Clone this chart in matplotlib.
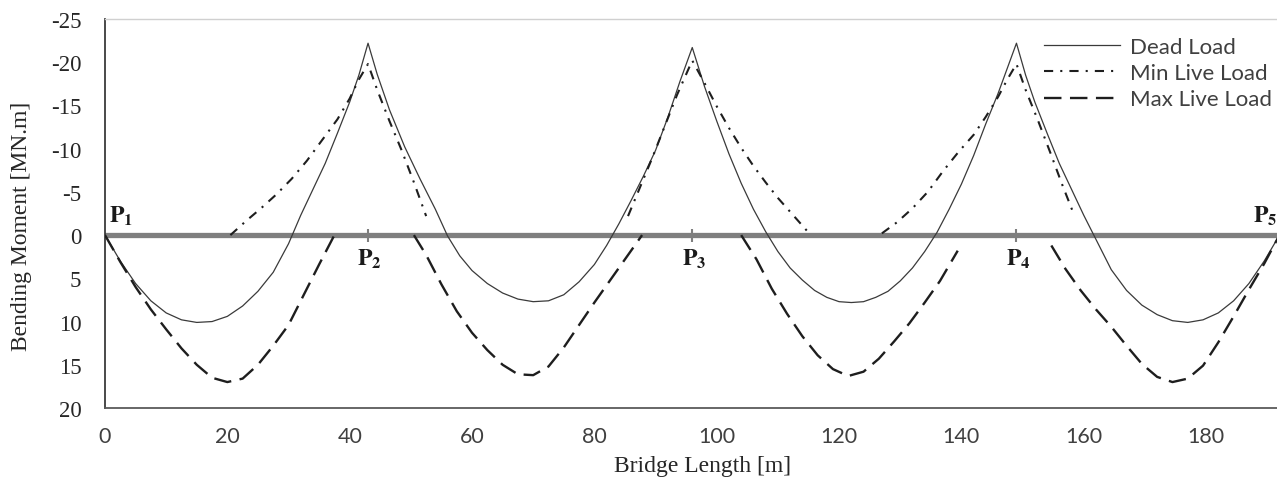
import matplotlib
matplotlib.use('Agg')
import matplotlib.pyplot as plt
import numpy as np

# 弯矩包络图 - 四跨连续梁桥

nan = np.nan

# Dead Load [MN.m], 正值 = 正弯矩（向下画）
dead_x = [0, 2.5, 5, 7.5, 10, 12.5, 15, 17.5, 20, 22.5, 25, 27.5, 30, 32, 34, 36, 38, 40, 41.5, 43,
          44.5, 46.5, 49, 51.5, 54, 56, 58, 60, 62.5, 65, 67.5, 70, 72.5, 75, 77.5, 80, 82, 84, 86, 88, 90, 92, 94, 96,
          98, 100, 102, 104, 106, 108, 110, 112, 114, 116, 118, 120, 122, 124, 126, 128, 130, 132, 134, 136, 138,
          140, 142, 144, 146, 147.5, 149,
          150.5, 152, 154, 156, 158, 160, 162, 164.5, 167, 169.5, 172, 174.5, 177, 179.5, 182, 184.5, 187, 189.5, 192]
dead_m = [0, 3.0, 5.6, 7.6, 9.0, 9.8, 10.1, 10.0, 9.4, 8.2, 6.5, 4.3, 1.0, -2.3, -5.3, -8.3, -11.8, -15.4, -18.5, -22.2,
          -18.6, -14.5, -10.2, -6.5, -3.0, 0.1, 2.4, 4.1, 5.6, 6.7, 7.4, 7.7, 7.6, 6.9, 5.4, 3.4, 1.2, -1.3, -4.0, -6.8,
          -9.8, -13.6, -17.8, -21.7,
          -17.2, -13.2, -9.4, -6.0, -3.0, -0.4, 1.9, 3.8, 5.2, 6.4, 7.2, 7.7, 7.8, 7.7, 7.2, 6.5, 5.3, 3.8, 1.9, -0.3,
          -3.0, -5.9, -9.2, -12.9, -16.4, -19.3, -22.2,
          -18.5, -15.4, -11.8, -8.3, -5.3, -2.3, 0.5, 4.0, 6.4, 8.1, 9.2, 9.9, 10.1, 9.8, 9.0, 7.6, 5.6, 3.0, 0]

# Min Live Load (只有负弯矩段)
minll_x = [20.5, 23, 25.5, 28, 30.5, 33, 35.5, 38, 40, 41.5, 43, 44.5, 46.5, 48.5, 50.5, 52.5, nan,
           85.5, 87.5, 89.5, 91.5, 93.5, 96, 98, 100, 102, 104, 106, 108, 110, 112, 115, nan,
           127, 129.5, 132, 134.5, 137, 139.5, 142, 144, 146, 147.5, 149, 150.5, 152.5, 154.5, 156.5, 158.5]
minll_m = [0, -1.6, -3.1, -4.7, -6.5, -8.6, -11.0, -13.4, -15.8, -18.0, -19.8, -16.8, -13.2, -9.8, -6.1, -2.2, nan,
           -2.2, -5.6, -9.0, -12.6, -16.2, -20.2, -17.6, -14.9, -12.4, -10.1, -8.0, -6.1, -4.3, -2.7, -0.3, nan,
           -0.2, -1.5, -3.1, -5.0, -7.4, -9.6, -11.6, -13.7, -16.0, -18.0, -19.8, -16.8, -13.3, -9.6, -5.8, -2.2]

# Max Live Load (只有正弯矩段)
maxll_x = [0, 2.5, 5, 7.5, 10, 12.5, 15, 17.5, 20, 22.5, 25, 27.5, 30, 32.5, 35, 37.5, nan,
           50.5, 52.5, 55, 57.5, 60, 62.5, 65, 67.5, 70, 72.5, 75, 77.5, 80, 82.5, 85, 87.8, nan,
           104, 106.5, 109, 111.5, 114, 116.5, 119, 121.5, 124, 126.5, 129, 131.5, 134, 136.5, 139.4, nan,
           154.7, 157, 159.5, 162, 164.5, 167, 169.5, 172, 174.5, 177, 179.5, 182, 184.5, 187, 189.5, 192]
maxll_m = [0, 3.1, 6.0, 8.6, 10.9, 13.1, 15.0, 16.5, 17.0, 16.6, 15.0, 12.8, 10.4, 6.9, 3.4, 0.0, nan,
           0, 2.3, 5.7, 8.8, 11.3, 13.3, 15.0, 16.1, 16.2, 15.2, 13.0, 10.4, 7.8, 5.3, 2.8, 0, nan,
           0, 2.8, 6.2, 9.1, 11.7, 13.9, 15.5, 16.3, 15.8, 14.3, 12.3, 10.2, 7.8, 5.3, 1.8, nan,
           1.2, 3.9, 6.4, 8.6, 10.6, 12.8, 14.9, 16.4, 17.0, 16.6, 15.1, 12.4, 9.4, 6.3, 3.3, 0]

supports = [0, 43, 96, 149, 192]
support_names = ['1', '2', '3', '4', '5']
y_ticks = [-25, -20, -15, -10, -5, 0, 5, 10, 15, 20]
x_ticks = [0, 20, 40, 60, 80, 100, 120, 140, 160, 180]

plt.rcParams['axes.unicode_minus'] = False
plt.rcParams['mathtext.fontset'] = 'stix'

W, H = 1277, 481
fig = plt.figure(figsize=(W / 100, H / 100), dpi=100)
ax = fig.add_axes([105 / W, 1 - 409 / H, (1279.5 - 105) / W, 389 / H])

# 桥面（零线）
ax.axhline(0, color='#7f7f7f', lw=3.8, zorder=1)
ax.vlines(supports[1:4], -0.75, 0.75, color='#7f7f7f', lw=1.5, zorder=1)

ax.plot(dead_x, dead_m, color='#3a3a3a', lw=0.9, label='Dead Load', zorder=3)
ax.plot(minll_x, minll_m, color='#1e1e1e', lw=1.5, linestyle=(0, (4.4, 3.4, 1.0, 3.4)),
        label='Min Live Load', zorder=3)
ax.plot(maxll_x, maxll_m, color='#1e1e1e', lw=1.7, linestyle=(0, (7.4, 3.6)),
        label='Max Live Load', zorder=3)

ax.set_xlim(0, 192)
ax.set_ylim(20, -25)
ax.set_yticks(y_ticks)
ax.set_xticks(x_ticks)
ax.set_yticklabels([str(v) for v in y_ticks], family='Liberation Serif', fontsize=16.5, color='#262626')
ax.set_xticklabels([str(v) for v in x_ticks], family='Lato', fontsize=15.5, color='#404040')
ax.tick_params(axis='both', length=0)
ax.tick_params(axis='y', pad=17)
ax.tick_params(axis='x', pad=13)

ax.spines['right'].set_visible(False)
ax.spines['top'].set_color('#d0d0d0')
ax.spines['top'].set_linewidth(1.0)
ax.spines['left'].set_color('#3a3a3a')
ax.spines['left'].set_linewidth(1.3)
ax.spines['bottom'].set_color('#5a5a5a')
ax.spines['bottom'].set_linewidth(1.3)

# 支座标注
for xs, nm in zip(supports, support_names):
    lab = r'$\mathbf{P}_{\mathbf{' + nm + '}}$'
    if nm == '1':
        ax.text(xs + 0.6, -0.9, lab, fontsize=17, ha='left', va='bottom', color='#1a1a1a')
    elif nm == '5':
        ax.text(xs - 0.3, -0.9, lab, fontsize=17, ha='right', va='bottom', color='#1a1a1a')
    else:
        ax.text(xs + 0.3, 1.3, lab, fontsize=17, ha='center', va='top', color='#1a1a1a')

fig.text(22 / W, 1 - 226 / H, 'Bending Moment [MN.m]', rotation=90, ha='center', va='center',
         family='Liberation Serif', fontsize=17, color='#262626')
fig.text(703 / W, 1 - 467 / H, 'Bridge Length [m]', ha='center', va='center',
         family='Liberation Serif', fontsize=17, color='#262626')

leg = ax.legend(loc='upper left', bbox_to_anchor=(1044 / W, 1 - 38 / H), bbox_transform=fig.transFigure,
                frameon=False, prop={'family': 'Lato', 'size': 16}, handlelength=3.4,
                handletextpad=0.45, labelspacing=0.28, borderpad=0, borderaxespad=0)
for t in leg.get_texts():
    t.set_color('#404040')

plt.savefig('out.png', dpi=100)
plt.close()
